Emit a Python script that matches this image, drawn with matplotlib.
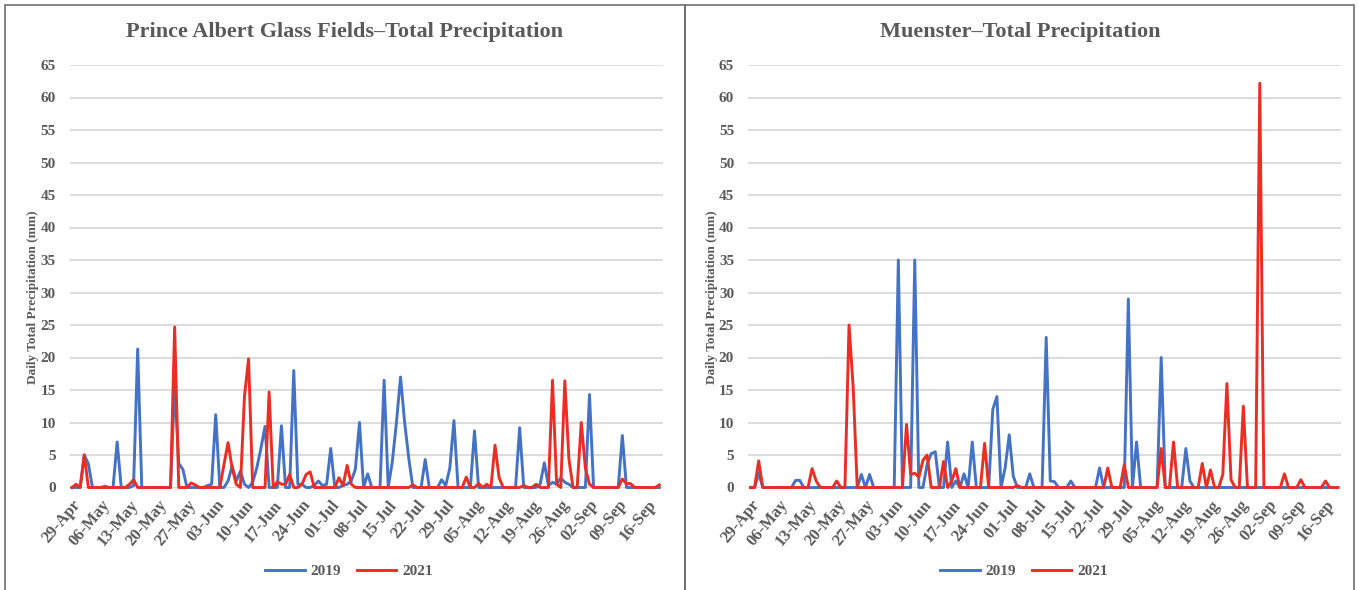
import numpy as np
import pandas as pd
import matplotlib
matplotlib.use("Agg")
import matplotlib.pyplot as plt
from matplotlib.patches import Rectangle

# daily totals (mm), 29-Apr .. 19-Sep, one row per week
pa_2019 = [
    0, 0, 0, 5.0, 3.6, 0, 0,
    0, 0.2, 0, 0, 7.0, 0, 0,
    0, 0.3, 21.3, 0, 0, 0, 0,
    0, 0, 0, 0, 16.0, 3.7, 2.8,
    0, 0, 0, 0, 0, 0.3, 0.5,
    11.2, 0, 0, 1.0, 3.3, 1.0, 2.5,
    0.5, 0, 0.8, 3.0, 6.0, 9.4, 0,
    0, 0, 9.5, 0, 0, 18.0, 0.5,
    0.5, 0, 0, 0.3, 1.0, 0.3, 0.5,
    6.0, 0, 0, 0.3, 0.5, 1.0, 2.8,
    10.0, 0, 2.1, 0, 0, 0, 16.5,
    0, 4.0, 10.0, 17.0, 10.0, 4.5, 0,
    0, 0, 4.3, 0, 0, 0, 1.2,
    0.3, 3.0, 10.3, 0, 0, 0, 0,
    8.7, 0, 0, 0, 0, 0, 0,
    0, 0, 0, 0, 9.2, 0, 0,
    0, 0, 0.5, 3.8, 0.3, 0.8, 0.5,
    1.5, 0.8, 0.5, 0, 0, 0, 0,
    14.3, 0, 0, 0, 0, 0, 0,
    0, 8.0, 0, 0, 0, 0, 0,
    0, 0, 0, 0,
]
pa_2021 = [
    0, 0.5, 0, 5.0, 0, 0, 0,
    0, 0, 0, 0, 0, 0, 0,
    0.5, 1.2, 0, 0, 0, 0, 0,
    0, 0, 0, 0, 24.7, 0, 0,
    0, 0.7, 0.4, 0, 0, 0, 0,
    0, 0, 3.5, 6.9, 3.0, 0.5, 0,
    14.0, 19.8, 0, 0, 0, 0, 14.7,
    0, 0.9, 0.5, 0.5, 2.0, 0, 0,
    0.5, 2.0, 2.4, 0, 0, 0, 0,
    0, 0, 1.5, 0.3, 3.4, 0.5, 0,
    0, 0, 0, 0, 0, 0, 0,
    0, 0, 0, 0, 0, 0, 0.4,
    0, 0, 0, 0, 0, 0, 0,
    0, 0, 0, 0, 0, 1.6, 0,
    0, 0.6, 0, 0.5, 0, 6.5, 1.5,
    0, 0, 0, 0, 0, 0.3, 0,
    0, 0.5, 0, 0, 0, 16.5, 0.5,
    0, 16.4, 4.3, 0, 0, 10.0, 3.0,
    0.5, 0, 0, 0, 0, 0, 0,
    0, 1.3, 0.6, 0.6, 0, 0, 0,
    0, 0, 0, 0.4,
]
mu_2019 = [
    0, 0, 2.2, 0, 0, 0, 0,
    0, 0, 0, 0, 1.1, 1.1, 0,
    0, 0, 0, 0, 0, 0, 0,
    0, 0, 0, 0, 0, 0, 2.0,
    0, 2.0, 0, 0, 0, 0, 0,
    0, 35.0, 0, 0, 0, 35.0, 0,
    0, 3.5, 5.2, 5.5, 0, 0, 7.0,
    0, 1.0, 0, 2.1, 0, 7.0, 0,
    0, 0, 0, 12.0, 14.0, 0, 3.0,
    8.1, 1.7, 0, 0, 0, 2.1, 0,
    0, 0, 23.1, 1.0, 0.9, 0, 0,
    0, 1.0, 0, 0, 0, 0, 0,
    0, 3.0, 0, 0, 0, 0, 0,
    0, 29.0, 0, 7.0, 0, 0, 0,
    0, 0, 20.0, 0, 0, 0, 0,
    0, 6.0, 1.0, 0, 0, 0, 0,
    0, 0, 0, 0, 0, 0, 0,
    0, 0, 0, 0, 0, 0, 0,
    0, 0, 0, 0, 0, 0, 0,
    0, 0, 0, 0, 0, 0, 0,
    0, 0, 0, 0,
]
mu_2021 = [
    0, 0, 4.1, 0, 0, 0, 0,
    0, 0, 0, 0, 0, 0, 0,
    0, 2.9, 1.0, 0, 0, 0, 0,
    1.0, 0, 0, 25.0, 15.5, 0, 0,
    0, 0, 0, 0, 0, 0, 0,
    0, 0, 0, 9.7, 2.0, 2.2, 1.6,
    4.2, 5.0, 0, 0, 0, 4.0, 0,
    1.0, 2.9, 0, 0, 0, 0, 0,
    0, 6.8, 0, 0, 0, 0, 0,
    0, 0, 0.3, 0, 0, 0, 0,
    0, 0, 0, 0, 0, 0, 0,
    0, 0, 0, 0, 0, 0, 0,
    0, 0, 0, 3.0, 0, 0, 0,
    3.5, 0, 0, 0, 0, 0, 0,
    0, 0, 6.0, 0, 0, 7.0, 0,
    0, 0, 0, 0, 0, 3.7, 0,
    2.7, 0, 0, 2.0, 16.0, 1.2, 0,
    0, 12.5, 0, 0, 0, 62.2, 0,
    0, 0, 0, 0, 2.1, 0, 0,
    0, 1.2, 0, 0, 0, 0, 0,
    1.0, 0, 0, 0,
]

titles = ["Prince Albert Glass Fields\u2013Total Precipitation",
          "Muenster\u2013Total Precipitation"]
series = [(pa_2019, pa_2021), (mu_2019, mu_2021)]

dates = pd.date_range("2021-04-29", periods=len(pa_2019), freq="D")
tick_idx = list(range(0, len(dates), 7))
tick_labels = [dates[i].strftime("%d-%b") for i in tick_idx]

plt.rcParams["font.family"] = ["Liberation Serif", "DejaVu Serif"]
plt.rcParams["font.weight"] = "bold"
grey = "#595959"
blue = "#4472C4"
red = "#EB2D23"

W, H = 1359, 590
fig = plt.figure(figsize=(W / 100, H / 100), dpi=100)

# panel frames
for x0, x1 in [(5, 685), (685, 1354)]:
    fig.patches.append(Rectangle((x0 / W, -0.02), (x1 - x0) / W, (H - 5) / H + 0.02,
                                 transform=fig.transFigure, fill=False,
                                 ec="#707070", lw=1.2))

panel_left = [69.5, 748]
panel_mid = [345, 1020]
ylab_x = [33, 712]

for k in range(2):
    ax = fig.add_axes([panel_left[k] / W, (H - 487.5) / H, 593.5 / W, 422.5 / H])
    y19, y21 = series[k]
    x = np.arange(len(y19))
    ax.plot(x, y19, color=blue, lw=2.1, label="2019", clip_on=False)
    ax.plot(x, y21, color=red, lw=2.1, label="2021", clip_on=False)

    ax.set_xlim(-0.6, len(x) - 0.1)
    ax.set_ylim(0, 65)
    ax.set_yticks(range(0, 66, 5))
    ax.grid(axis="y", color="#d9d9d9", lw=1.3)
    ax.set_axisbelow(True)
    for s in ax.spines.values():
        s.set_visible(False)

    ax.tick_params(axis="y", length=0, pad=10, labelsize=11, labelcolor=grey)
    ax.set_xticks(tick_idx)
    ax.set_xticklabels(tick_labels, rotation=50, ha="right", va="top",
                       rotation_mode="anchor", fontsize=12, color=grey)
    ax.tick_params(axis="x", length=0, pad=7)

    fig.text(panel_mid[k] / W, (H - 32) / H, titles[k], ha="center", va="center",
             fontsize=16, fontweight="bold", color=grey)
    fig.text(ylab_x[k] / W, (H - 297) / H, "Daily Total Precipitation (mm)",
             rotation=90, ha="center", va="center", fontsize=9.5,
             fontweight="bold", color=grey)

    ax.legend(loc="center", bbox_to_anchor=((panel_mid[k] + 4) / W, (H - 571) / H),
              bbox_transform=fig.transFigure, ncol=2, frameon=False,
              handlelength=2.6, columnspacing=1.0, handletextpad=0.4,
              prop={"size": 11, "weight": "bold"}, labelcolor=grey)

fig.savefig("out.png", dpi=100, facecolor="white")
